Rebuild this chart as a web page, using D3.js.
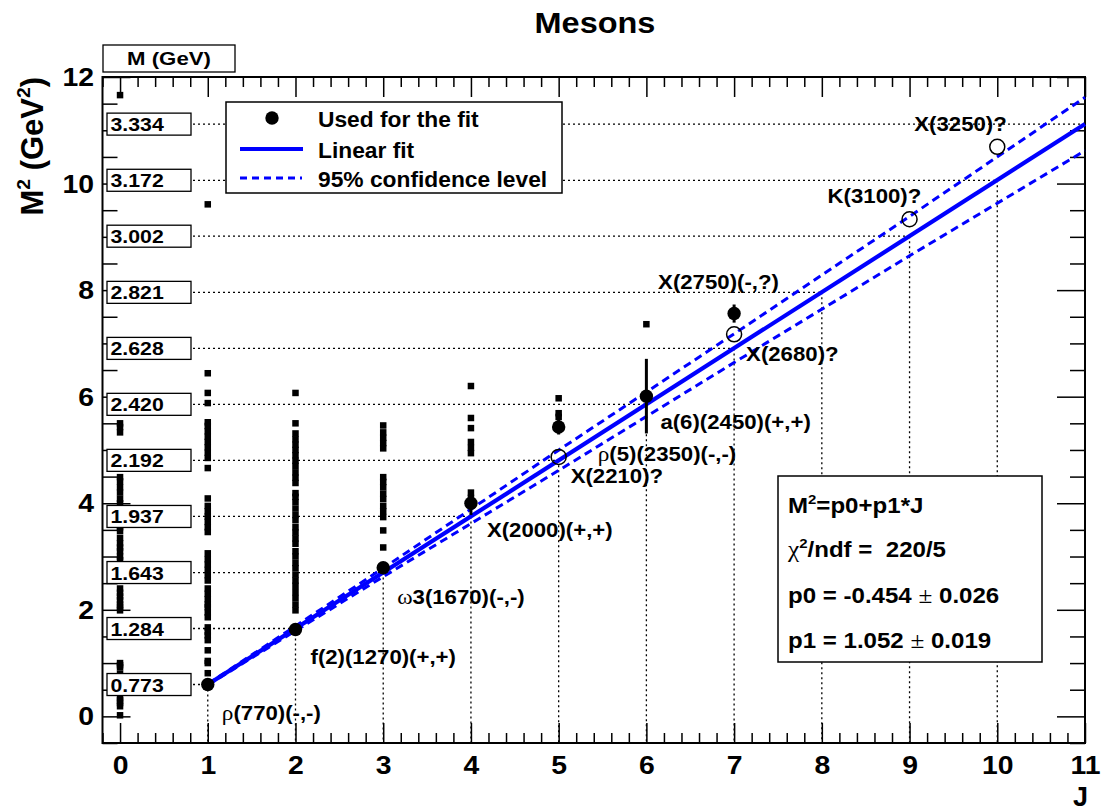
<!DOCTYPE html>
<html><head><meta charset="utf-8">
<script src="https://cdn.jsdelivr.net/npm/d3@7"></script>
<style>
body{margin:0;background:#fff}
text{font-family:"Liberation Sans",Arial,Helvetica,sans-serif;font-weight:bold;fill:#000}
</style></head>
<body><svg id="c" width="1108" height="811"></svg>
<script>
// ---------------- DATA ----------------
const p0 = -0.454, p1 = 1.052;
const fitJ = [1, 2, 3, 4, 5, 6, 7];
const fitM2 = [0.598, 1.63, 2.79, 4.0, 5.43, 6.01, 7.56];
const fitErr = [0.02, 0.02, 0.03, 0.22, 0.14, 0.70, 0.17];
const fitNames = ["ρ(770)(-,-)", "f(2)(1270)(+,+)", "ω3(1670)(-,-)", "X(2000)(+,+)", "ρ(5)(2350)(-,-)", "a(6)(2450)(+,+)", "X(2750)(-,?)"];
const openJ = [5, 7, 9, 10];
const openM2 = [4.87, 7.17, 9.33, 10.69];
const openNames = ["X(2210)?", "X(2680)?", "K(3100)?", "X(3250)?"];
const bandJ = [1, 3, 5, 7, 9, 11];
const bandHalf = [0.01, 0.08, 0.19, 0.27, 0.37, 0.50];
const massJ = [1, 2, 3, 4, 5, 6, 7, 8, 9, 10, 11];
const massLabels = ["0.773", "1.284", "1.643", "1.937", "2.192", "2.420", "2.628", "2.821", "3.002", "3.172", "3.334"];
const otherJ0 = [0.02, 0.19, 0.25, 0.30, 0.36, 0.8, 0.92, 0.96, 1.0, 1.99, 2.05, 2.1, 2.18, 2.25, 2.32, 2.4, 2.93, 3.0, 3.1, 3.17, 3.25, 3.35, 3.48, 3.55, 3.62, 3.75, 3.87, 4.0, 4.08, 4.2, 4.3, 4.41, 4.49, 5.33, 5.43, 5.5, 11.66];
const otherJ1 = [0.62, 0.81, 1.0, 1.04, 1.24, 1.43, 1.52, 1.59, 1.67, 1.86, 1.95, 2.05, 2.1, 2.2, 2.3, 2.40, 2.55, 2.65, 2.75, 2.85, 2.95, 3.06, 3.46, 3.55, 3.65, 3.75, 3.85, 3.95, 4.09, 4.66, 4.85, 4.95, 5.05, 5.15, 5.25, 5.35, 5.45, 5.52, 5.88, 6.07, 6.44, 9.61];
const otherJ2 = [1.99, 2.1, 2.22, 2.33, 2.45, 2.55, 2.66, 2.78, 2.88, 3.0, 3.1, 3.24, 3.34, 3.45, 3.55, 3.68, 3.78, 3.9, 4.02, 4.12, 4.19, 4.38, 4.48, 4.58, 4.7, 4.8, 4.9, 5.0, 5.1, 5.2, 5.31, 5.50, 6.07];
const otherJ3 = [3.17, 3.49, 3.74, 3.85, 3.95, 4.08, 4.18, 4.3, 4.4, 4.49, 5.03, 5.13, 5.23, 5.33, 5.46];
const otherJ4 = [4.1, 4.2, 4.94, 5.04, 5.15, 5.41, 5.6, 6.20];
const otherJ5 = [5.62, 5.69, 5.97];
const otherJ6 = [7.36];
const xTicks = [0, 1, 2, 3, 4, 5, 6, 7, 8, 9, 10, 11];
const yTicks = [0, 2, 4, 6, 8, 10, 12];
const legendLabels = ["Used for the fit", "Linear fit", "95% confidence level"];
const statsLines = ["M^{2}=p0+p1*J", "χ^{2}/ndf =  220/5", "p0 = -0.454 ± 0.026", "p1 = 1.052 ± 0.019"];

// ---------------- LAYOUT ----------------
const svg = d3.select("#c");
const L = 102.5, R = 1085, T = 77, B = 743;
const X = d3.scaleLinear().domain([-0.2, 11]).range([L, R]);
const Y = d3.scaleLinear().domain([-0.5, 12]).range([B, T]);
const fit = j => p0 + p1 * j;
const BLUE = "#0000ff";

function rich(g, str, fs) {
  const t = g.append("text").attr("font-size", fs).attr("xml:space", "preserve").style("white-space", "pre");
  const re = /\^\{([^}]*)\}|[\u0370-\u03ff]|±|[^\^\u0370-\u03ff±]+/g;
  let m, shift = 0;
  while ((m = re.exec(str))) {
    if (m[1] !== undefined) {
      t.append("tspan").attr("dy", -0.42 * fs).attr("font-size", fs * 0.62).text(m[1]);
      shift = 0.42 * fs;
    } else {
      const ts = t.append("tspan").text(m[0]);
      if (shift) { ts.attr("dy", shift); shift = 0; }
      if (/[\u0370-\u03ff±]/.test(m[0])) ts.style("font-family", '"Liberation Serif",serif').style("font-weight", "normal").attr("font-size", fs * 1.05);
    }
  }
  return t;
}
function label(x, y, str, fs, sx, anchor) {
  const g = svg.append("g").attr("transform", `translate(${x},${y}) scale(${sx},1)`);
  return rich(g, str, fs).attr("text-anchor", anchor || "start");
}

// ---------------- AXES ----------------
function styleAxis(g) { g.select(".domain").remove(); g.selectAll("line").attr("stroke", "#000").attr("stroke-width", 1.5); }
const xMinor = d3.range(-0.2, 11.0001, 0.2).map(v => +v.toFixed(2)).filter(v => Math.abs(v - Math.round(v)) > 1e-6);
const yMinor = d3.range(-0.5, 12.0001, 0.5).filter(v => v % 2 !== 0);

const gxb = svg.append("g").attr("transform", `translate(0,${B})`)
  .call(d3.axisBottom(X).tickValues(xTicks).tickSizeInner(-20).tickSizeOuter(0).tickPadding(12).tickFormat(d3.format("d")));
styleAxis(gxb);
gxb.selectAll("text").attr("font-size", 26.5).attr("font-family", '"Liberation Sans",Arial,sans-serif').attr("font-weight", "bold").attr("transform", "scale(1.07,1)");
styleAxis(svg.append("g").attr("transform", `translate(0,${B})`).call(d3.axisBottom(X).tickValues(xMinor).tickSizeInner(-10).tickSizeOuter(0).tickFormat("")));
styleAxis(svg.append("g").attr("transform", `translate(0,${T})`).call(d3.axisTop(X).tickValues(xTicks).tickSizeInner(-20).tickSizeOuter(0).tickFormat("")));
styleAxis(svg.append("g").attr("transform", `translate(0,${T})`).call(d3.axisTop(X).tickValues(xMinor).tickSizeInner(-10).tickSizeOuter(0).tickFormat("")));

const gyl = svg.append("g").attr("transform", `translate(${L},0)`)
  .call(d3.axisLeft(Y).tickValues(yTicks).tickSizeInner(-28).tickSizeOuter(0).tickPadding(8).tickFormat(d3.format("d")));
styleAxis(gyl);
gyl.selectAll("text").attr("font-size", 26.5).attr("font-family", '"Liberation Sans",Arial,sans-serif').attr("font-weight", "bold").attr("transform", "scale(1.07,1)");
styleAxis(svg.append("g").attr("transform", `translate(${L},0)`).call(d3.axisLeft(Y).tickValues(yMinor).tickSizeInner(-15).tickSizeOuter(0).tickFormat("")));
styleAxis(svg.append("g").attr("transform", `translate(${R},0)`).call(d3.axisRight(Y).tickValues(yTicks).tickSizeInner(-28).tickSizeOuter(0).tickFormat("")));
styleAxis(svg.append("g").attr("transform", `translate(${R},0)`).call(d3.axisRight(Y).tickValues(yMinor).tickSizeInner(-15).tickSizeOuter(0).tickFormat("")));

svg.append("rect").attr("x", L).attr("y", T).attr("width", R - L).attr("height", B - T)
  .attr("fill", "none").attr("stroke", "#000").attr("stroke-width", 2);

// ---------------- DOTTED GUIDES ----------------
const boxL = 107, boxW = 84, boxH = 22;
const guides = svg.append("g").attr("stroke", "#000").attr("stroke-width", 1.3).attr("stroke-dasharray", "2,3");
massJ.forEach((j, i) => {
  const m2 = (+massLabels[i]) ** 2;
  guides.append("line").attr("x1", boxL + boxW + 2).attr("x2", X(j)).attr("y1", Y(m2)).attr("y2", Y(m2));
  if (j < 11) guides.append("line").attr("x1", X(j)).attr("x2", X(j)).attr("y1", Y(m2)).attr("y2", B);
});

// ---------------- OTHER MESONS (small squares) ----------------
const cols = [otherJ0, otherJ1, otherJ2, otherJ3, otherJ4, otherJ5, otherJ6];
const sq = 6.5;
cols.forEach((arr, j) => {
  svg.append("g").selectAll("rect").data(arr).join("rect")
    .attr("x", X(j) - sq / 2).attr("y", d => Y(d) - sq / 2).attr("width", sq).attr("height", sq).attr("fill", "#000");
});

// ---------------- MASS BOXES ----------------
massJ.forEach((j, i) => {
  const cy = Y((+massLabels[i]) ** 2);
  svg.append("rect").attr("x", boxL).attr("y", cy - boxH / 2).attr("width", boxW).attr("height", boxH)
    .attr("fill", "#fff").attr("stroke", "#000").attr("stroke-width", 1.3);
  label(boxL + 3.5, cy + 7, massLabels[i], 18.5, 1.15);
});
svg.append("rect").attr("x", 103).attr("y", 45).attr("width", 132).attr("height", 27)
  .attr("fill", "#fff").attr("stroke", "#000").attr("stroke-width", 1.3);
label(169, 65, "M (GeV)", 18.5, 1.2, "middle");

// ---------------- FIT + BAND ----------------
const lineGen = d3.line().x(d => X(d[0])).y(d => Y(d[1]));
const fitRange = [1, 11];
svg.append("path").attr("d", lineGen(fitRange.map(j => [j, fit(j)])))
  .attr("stroke", BLUE).attr("stroke-width", 4.2).attr("fill", "none");
[1, -1].forEach(s => {
  svg.append("path").attr("d", lineGen(bandJ.map((j, i) => [j, fit(j) + s * bandHalf[i]])))
    .attr("stroke", BLUE).attr("stroke-width", 3).attr("stroke-dasharray", "8,5").attr("fill", "none");
});

// ---------------- POINTS ----------------
fitJ.forEach((j, i) => {
  svg.append("line").attr("x1", X(j)).attr("x2", X(j)).attr("y1", Y(fitM2[i] - fitErr[i])).attr("y2", Y(fitM2[i] + fitErr[i]))
    .attr("stroke", "#000").attr("stroke-width", 3);
});
svg.append("g").selectAll("circle").data(fitJ).join("circle")
  .attr("cx", d => X(d)).attr("cy", (d, i) => Y(fitM2[i])).attr("r", 6.7).attr("fill", "#000");
svg.append("g").selectAll("circle").data(openJ).join("circle")
  .attr("cx", d => X(d)).attr("cy", (d, i) => Y(openM2[i])).attr("r", 7.5)
  .attr("fill", "none").attr("stroke", "#000").attr("stroke-width", 1.5);

// ---------------- PARTICLE LABELS ----------------
const fitOff = [[14, 36], [15, 34], [14, 36], [16, 34], [39, 34], [14, 33], [-76, -25]];
fitJ.forEach((j, i) => label(X(j) + fitOff[i][0], Y(fitM2[i]) + fitOff[i][1], fitNames[i], 20, 1.11));
const openOff = [[12, 26], [12, 27], [-82, -16], [-83, -16]];
openJ.forEach((j, i) => label(X(j) + openOff[i][0], Y(openM2[i]) + openOff[i][1], openNames[i], 20, 1.11));

// ---------------- LEGEND ----------------
svg.append("rect").attr("x", 226).attr("y", 102).attr("width", 336).attr("height", 91)
  .attr("fill", "#fff").attr("stroke", "#000").attr("stroke-width", 1.5);
svg.append("circle").attr("cx", 272).attr("cy", 118).attr("r", 6.7).attr("fill", "#000");
svg.append("line").attr("x1", 240).attr("x2", 303).attr("y1", 149).attr("y2", 149).attr("stroke", BLUE).attr("stroke-width", 4);
svg.append("line").attr("x1", 240).attr("x2", 302).attr("y1", 178).attr("y2", 178).attr("stroke", BLUE).attr("stroke-width", 3).attr("stroke-dasharray", "7,5");
const legY = [127, 158, 187];
legendLabels.forEach((s, i) => label(318, legY[i], s, 21.5, 1.06));

// ---------------- STATS BOX ----------------
svg.append("rect").attr("x", 778).attr("y", 476).attr("width", 264).attr("height", 186)
  .attr("fill", "#fff").attr("stroke", "#000").attr("stroke-width", 1.5);
const statY = [513, 557, 603, 648];
statsLines.forEach((s, i) => label(788, statY[i], s, 21.5, 1.12));

// ---------------- TITLES ----------------
label(595, 33, "Mesons", 29, 1.12, "middle");
svg.append("g").attr("transform", "translate(43,77) rotate(-90)")
  .call(g => rich(g, "M^{2} (GeV^{2})", 31).attr("text-anchor", "end"));
label(1088, 806, "J", 27, 1.0, "end");
</script></body></html>
